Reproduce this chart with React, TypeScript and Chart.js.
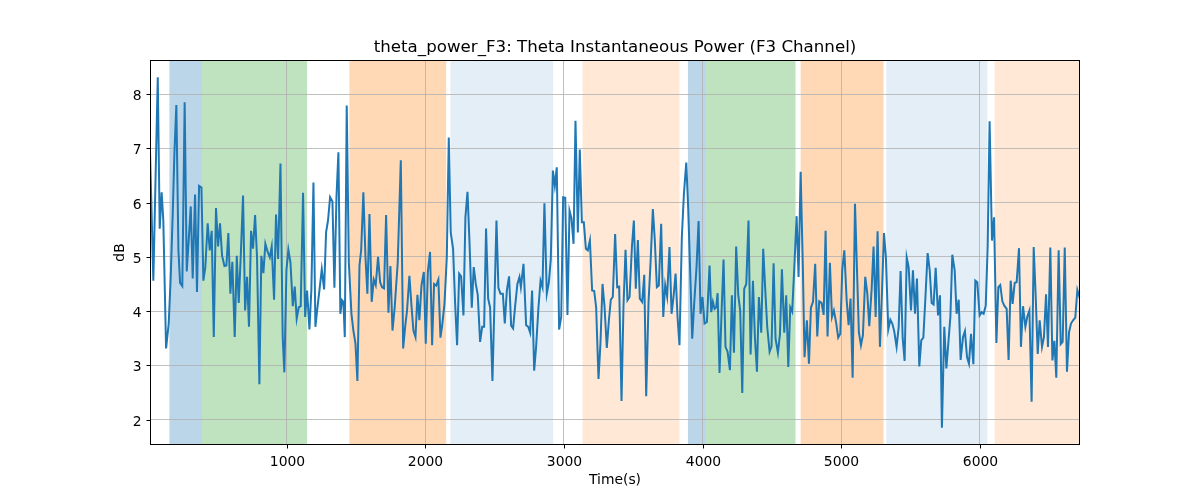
import React, { useEffect, useRef } from "react";
import { Chart, registerables } from "chart.js";

Chart.register(...registerables);

const times = [
  14, 38, 70, 84, 98, 110, 130, 149, 163, 178, 190, 204, 219, 231, 247, 264, 279, 293, 308, 322,
  339, 353, 368, 385, 399, 413, 430, 445, 459, 474, 490, 505, 519, 534, 551, 565, 579, 594, 608, 625,
  640, 654, 670, 685, 700, 714, 728, 743, 757, 772, 786, 803, 817, 832, 846, 863, 878, 892, 909, 923,
  938, 955, 971, 983, 998, 1012, 1027, 1044, 1058, 1072, 1087, 1101, 1118, 1133, 1147, 1164, 1178, 1193, 1207, 1221,
  1236, 1253, 1270, 1284, 1298, 1313, 1330, 1344, 1359, 1373,
  1387, 1399, 1409, 1419, 1433, 1448, 1467, 1481, 1496, 1510, 1525, 1537, 1553, 1568, 1582, 1597, 1613, 1628, 1642, 1659,
  1674, 1688, 1702, 1717, 1734, 1748, 1763, 1779, 1801, 1823, 1840, 1854, 1868, 1885, 1900, 1914, 1929, 1943, 1957, 1972,
  1989, 2003, 2018, 2034, 2049, 2063, 2078, 2094, 2109, 2123, 2138, 2155, 2169, 2183, 2200, 2215, 2229, 2244, 2258, 2275,
  2289, 2304, 2318, 2335, 2349, 2364, 2378, 2395, 2410, 2424, 2438, 2453, 2467, 2484, 2498, 2513, 2527, 2542, 2559, 2573,
  2588, 2604, 2619, 2633, 2648, 2664,
  2679, 2689, 2708, 2727, 2742, 2756, 2770, 2785, 2799, 2816, 2831, 2845, 2859, 2876, 2891, 2905, 2920, 2934, 2948, 2965,
  2980, 2994, 3009, 3025, 3040, 3054, 3069, 3083, 3100, 3114, 3129, 3143, 3158, 3172, 3187, 3203, 3218, 3232, 3249, 3263,
  3278, 3292, 3309, 3324, 3338, 3352, 3369, 3384, 3398, 3415, 3429, 3444, 3458, 3473, 3490, 3504, 3518, 3533, 3547, 3564,
  3579, 3593, 3610, 3624, 3641, 3655, 3670, 3684, 3701, 3716, 3730, 3744, 3761, 3776, 3790, 3805, 3819, 3833, 3850, 3865,
  3882, 3896, 3910, 3925, 3939, 3956, 3971, 3985, 3999, 4014, 4031,
  4050, 4062, 4074, 4086, 4098, 4108, 4122, 4137, 4151, 4165, 4180, 4197, 4211, 4226, 4242, 4257, 4271, 4286, 4300, 4315,
  4331, 4346, 4363, 4377, 4392, 4406, 4423, 4437, 4452, 4466, 4483, 4497, 4512, 4526, 4543, 4558, 4572, 4589, 4603, 4618,
  4632, 4646, 4663, 4678, 4692, 4707, 4723, 4735, 4752, 4767, 4781, 4796, 4812, 4827, 4841, 4858, 4873, 4887, 4901, 4918,
  4933, 4947, 4964, 4978, 4993, 5007, 5022, 5039, 5053, 5067, 5082, 5099, 5113, 5127, 5142, 5156, 5173, 5188, 5202, 5219,
  5233, 5248, 5262, 5279, 5293, 5308, 5322, 5339, 5354, 5368, 5382, 5399, 5414, 5428,
  5443, 5457, 5472, 5486, 5503, 5517, 5532, 5546, 5563, 5577, 5592, 5606, 5623, 5638, 5652, 5666, 5681, 5698, 5712, 5726,
  5743, 5758, 5772, 5787, 5801, 5818, 5832, 5847, 5861, 5878, 5892, 5907, 5921, 5936, 5953, 5967, 5981, 5998, 6013, 6027,
  6042, 6056, 6070, 6087, 6102, 6119, 6133, 6147, 6162, 6176, 6193, 6207, 6222, 6236, 6251, 6265, 6282, 6296, 6311, 6328,
  6342, 6357, 6373, 6388, 6402, 6417, 6431, 6448, 6462, 6477, 6491, 6508, 6523, 6537, 6551, 6568, 6583, 6597, 6612, 6628,
  6643, 6657, 6672, 6688, 6703, 6722,
];

const powerDb = [
  6.96, 4.56, 8.31, 5.52, 6.19, 5.67, 3.31, 3.77, 4.6, 5.8, 6.9, 7.8, 5.12, 4.52, 4.46, 7.85, 4.73, 5.3, 5.93, 4.6,
  6.15, 4.35, 6.31, 6.28, 4.56, 4.81, 5.62, 5.12, 5.48, 3.52, 5.9, 5.19, 5.62, 5.02, 4.83, 4.84, 5.44, 4.32, 4.91, 3.52,
  5.02, 4.15, 5.1, 6.13, 4.01, 4.63, 3.71, 5.48, 5.15, 5.77, 4.99, 2.65, 5.02, 4.7, 5.24, 5.09, 4.99, 5.19, 4.21, 5.78,
  4.96, 6.72, 3.52, 2.87, 4.75, 5.13, 4.9, 4.09, 4.45, 3.86, 4.07, 4.09, 6.18, 3.89, 4.38, 3.66, 4.4, 6.37, 3.71, 4.05,
  4.38, 4.77, 4.4, 5.45, 5.67, 6.1, 6.02, 4.43, 6.1, 6.93,
  3.95, 4.2, 4.17, 3.52, 7.79, 4.9, 3.95, 3.64, 3.4, 2.71, 4.84, 5.12, 6.19, 5.0, 4.32, 5.79, 4.17, 4.58, 4.48, 5.0,
  4.53, 4.44, 4.42, 5.77, 3.97, 4.83, 3.64, 4.07, 4.9, 6.78, 3.31, 3.7, 4.01, 4.65, 4.1, 3.64, 3.52, 4.3, 3.83, 4.47,
  4.72, 3.4, 4.72, 5.09, 3.37, 4.5, 4.47, 4.58, 3.51, 3.77, 4.13, 5.0, 7.2, 5.45, 5.15, 4.13, 3.37, 4.69, 4.64, 3.92,
  5.73, 6.2, 5.3, 4.06, 4.81, 4.5, 4.3, 3.43, 3.71, 3.71, 5.52, 4.23, 4.07, 2.71, 4.1, 5.67, 4.43, 4.32, 4.32, 3.77,
  4.38, 4.64, 3.73, 3.68, 4.1, 4.5,
  4.63, 4.44, 4.87, 3.74, 3.71, 3.6, 4.38, 2.9, 3.34, 4.07, 4.56, 4.44, 5.99, 4.32, 4.53, 4.96, 6.59, 6.31, 6.65, 3.66,
  3.89, 6.1, 6.09, 3.93, 5.85, 5.71, 5.24, 7.51, 5.45, 6.98, 5.64, 5.64, 5.15, 5.12, 5.3, 4.38, 4.37, 4.07, 2.75, 3.4,
  4.5, 4.1, 3.32, 3.83, 4.21, 4.26, 5.42, 4.44, 4.45, 2.34, 4.07, 5.13, 4.2, 4.26, 5.18, 5.67, 4.41, 5.31, 4.23, 4.17,
  4.67, 2.43, 4.17, 4.87, 5.88, 5.31, 4.44, 4.47, 5.61, 3.89, 4.48, 4.27, 5.18, 3.95, 4.26, 4.69, 3.89, 3.37, 5.36, 6.16,
  6.74, 5.9, 4.75, 3.49, 4.13, 4.81, 5.66, 3.95, 4.26, 3.77, 3.8,
  4.84, 3.98, 4.17, 4.04, 4.07, 4.33, 2.86, 4.0, 4.95, 3.34, 3.25, 2.91, 4.29, 3.23, 5.19, 4.3, 4.01, 2.49, 4.41, 4.5,
  5.67, 3.2, 4.56, 3.52, 2.88, 4.26, 3.6, 5.15, 4.38, 3.71, 3.25, 3.35, 4.88, 3.49, 3.23, 3.58, 4.77, 3.6, 4.29, 2.97,
  4.07, 3.99, 4.9, 5.75, 4.63, 6.57, 4.8, 3.15, 3.83, 3.03, 4.06, 4.17, 4.87, 3.53, 4.18, 4.15, 3.93, 5.48, 3.53, 4.89,
  3.89, 4.01, 3.77, 3.51, 3.58, 4.75, 5.12, 4.2, 3.74, 4.23, 2.77, 5.98, 4.8, 3.61, 3.37, 3.55, 4.63, 4.32, 3.72, 4.4,
  5.19, 3.89, 5.47, 3.34, 4.3, 5.44, 4.99, 3.66, 3.84, 3.77, 3.63, 3.34, 3.7, 4.74,
  3.5, 3.08, 4.99, 4.81, 4.01, 4.75, 3.95, 4.6, 2.98, 3.46, 3.51, 4.2, 5.07, 4.75, 4.15, 4.12, 4.8, 3.92, 4.29, 1.85,
  3.71, 2.94, 3.4, 3.89, 5.04, 4.75, 3.95, 4.21, 3.1, 3.52, 3.63, 3.15, 3.03, 3.58, 3.02, 4.56, 4.53, 3.92, 3.98, 3.95,
  4.1, 5.18, 7.5, 5.3, 5.73, 3.41, 4.44, 4.48, 4.18, 4.1, 4.04, 3.1, 4.56, 4.13, 4.52, 4.53, 5.16, 3.34, 4.09, 3.71,
  3.9, 4.01, 2.33, 5.18, 4.3, 3.21, 3.83, 3.34, 3.52, 4.31, 3.34, 5.17, 3.09, 3.45, 2.77, 5.12, 3.39, 3.43, 5.17, 2.88,
  3.61, 3.77, 3.83, 3.88, 4.39, 4.23,
];

const xTickValues = [1000, 2000, 3000, 4000, 5000, 6000];
const yTickValues = [2, 3, 4, 5, 6, 7, 8];

const bandStarts = [154, 389, 1452, 2181, 3134, 3894, 4026, 4707, 5325, 6106];
const bandEnds = [389, 1147, 2150, 2922, 3833, 4026, 4670, 5305, 6054, 6722];
const bandColors = [
  "rgba(31,119,180,0.3)",
  "rgba(44,160,44,0.3)",
  "rgba(255,127,14,0.3)",
  "rgba(31,119,180,0.12)",
  "rgba(255,127,14,0.17)",
  "rgba(31,119,180,0.3)",
  "rgba(44,160,44,0.3)",
  "rgba(255,127,14,0.3)",
  "rgba(31,119,180,0.12)",
  "rgba(255,127,14,0.17)",
];

const titleText = "theta_power_F3: Theta Instantaneous Power (F3 Channel)";
const xLabel = "Time(s)";
const yLabel = "dB";
const FONT = '"DejaVu Sans", sans-serif';

const bandsPlugin = {
  id: "bands",
  beforeDraw(chart: any) {
    const { ctx, chartArea, scales } = chart;
    const xs = scales.x;
    ctx.save();
    ctx.beginPath();
    ctx.rect(chartArea.left, chartArea.top, chartArea.right - chartArea.left, chartArea.bottom - chartArea.top);
    ctx.clip();
    for (let i = 0; i < bandStarts.length; i++) {
      const a = xs.getPixelForValue(bandStarts[i]);
      const b = xs.getPixelForValue(bandEnds[i]);
      ctx.fillStyle = bandColors[i];
      ctx.fillRect(a, chartArea.top, b - a, chartArea.bottom - chartArea.top);
    }
    ctx.restore();
  },
};

const decorPlugin = {
  id: "decor",
  afterDraw(chart: any) {
    const { ctx, chartArea, scales } = chart;
    const { left, right, top, bottom } = chartArea;
    ctx.save();
    // frame
    ctx.strokeStyle = "#000";
    ctx.lineWidth = 1;
    ctx.strokeRect(left + 0.5, top + 0.5, right - left - 1, bottom - top - 1);
    // ticks
    ctx.lineWidth = 1;
    ctx.fillStyle = "#000";
    ctx.font = `13.9px ${FONT}`;
    ctx.textAlign = "center";
    ctx.textBaseline = "alphabetic";
    for (const v of xTickValues) {
      const px = Math.round(scales.x.getPixelForValue(v)) + 0.5;
      ctx.beginPath();
      ctx.moveTo(px, bottom);
      ctx.lineTo(px, bottom + 3.5);
      ctx.stroke();
      ctx.fillText(String(v), px, 466);
    }
    ctx.textAlign = "right";
    for (const v of yTickValues) {
      const py = Math.round(scales.y.getPixelForValue(v)) + 0.5;
      ctx.beginPath();
      ctx.moveTo(left, py);
      ctx.lineTo(left - 3.5, py);
      ctx.stroke();
      ctx.fillText(String(v), 141.5, py + 5);
    }
    // axis labels
    ctx.textAlign = "center";
    ctx.fillText(xLabel, (left + right) / 2, 484);
    ctx.save();
    ctx.translate(123.5, (top + bottom) / 2);
    ctx.rotate(-Math.PI / 2);
    ctx.fillText(yLabel, 0, 0);
    ctx.restore();
    // title
    ctx.font = `16.67px ${FONT}`;
    ctx.fillText(titleText, (left + right) / 2, 51.5);
    ctx.restore();
  },
};

export default function App() {
  const canvasRef = useRef<HTMLCanvasElement | null>(null);

  useEffect(() => {
    const canvas = canvasRef.current;
    if (!canvas) return;
    const points = times.map((t, i) => ({ x: t, y: powerDb[i] }));
    const chart = new Chart(canvas, {
      type: "line",
      data: {
        datasets: [
          {
            data: points,
            borderColor: "#1f77b4",
            borderWidth: 2,
            pointRadius: 0,
            tension: 0,
            fill: false,
          },
        ],
      },
      options: {
        animation: false,
        responsive: false,
        maintainAspectRatio: false,
        devicePixelRatio: 1,
        layout: { padding: { top: 60, right: 120, left: 0, bottom: 0 } },
        plugins: {
          legend: { display: false },
          title: { display: false },
          tooltip: { enabled: false },
        },
        scales: {
          x: {
            type: "linear",
            min: times[0],
            max: times[times.length - 1],
            afterFit: (s: any) => {
              s.height = 55;
            },
            afterBuildTicks: (s: any) => {
              s.ticks = xTickValues.map((v) => ({ value: v }));
            },
            ticks: { display: false },
            grid: { color: "#b0b0b0", lineWidth: 0.8, drawTicks: false },
            border: { display: false },
          },
          y: {
            type: "linear",
            min: 1.53,
            max: 8.63,
            afterFit: (s: any) => {
              s.width = 150;
            },
            afterBuildTicks: (s: any) => {
              s.ticks = yTickValues.map((v) => ({ value: v }));
            },
            ticks: { display: false },
            grid: { color: "#b0b0b0", lineWidth: 0.8, drawTicks: false },
            border: { display: false },
          },
        },
      },
      plugins: [bandsPlugin, decorPlugin],
    });
    return () => chart.destroy();
  }, []);

  return (
    <div style={{ position: "fixed", left: 0, top: 0, width: 1200, height: 500, background: "#fff" }}>
      <canvas ref={canvasRef} width={1200} height={500} style={{ width: 1200, height: 500, display: "block" }} />
    </div>
  );
}
